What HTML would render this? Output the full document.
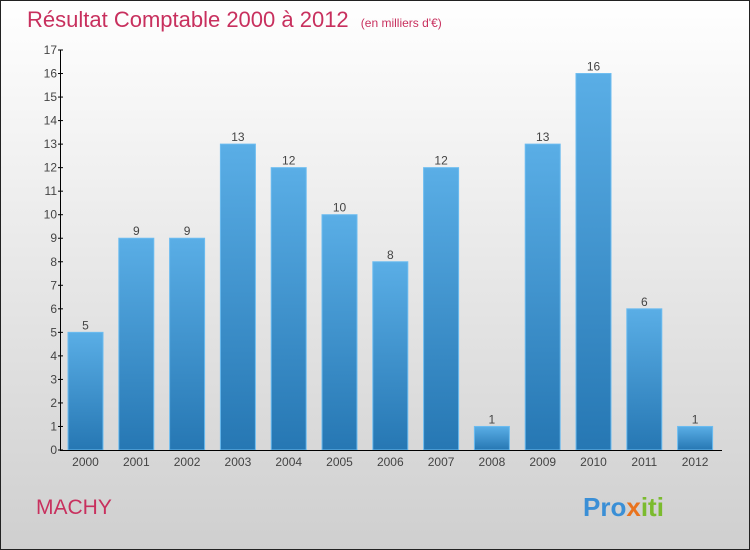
<!DOCTYPE html>
<html><head><meta charset="utf-8"><style>
body{margin:0;width:750px;height:550px;overflow:hidden}
svg{display:block;font-family:"Liberation Sans",sans-serif}
</style></head><body>
<svg id="c" width="750" height="550">
<defs>
<linearGradient id="bg" x1="0" y1="0" x2="0" y2="1"><stop offset="0" stop-color="#ffffff"/><stop offset="1" stop-color="#cfcfcf"/></linearGradient>
<linearGradient id="bar" x1="0" y1="0" x2="0" y2="1"><stop offset="0" stop-color="#5aaee6"/><stop offset="1" stop-color="#2677b3"/></linearGradient>
</defs>
<rect x="0.5" y="0.5" width="749" height="549" fill="url(#bg)" stroke="#222"/>
<text x="27" y="27" font-size="22" fill="#c8305e">Résultat Comptable 2000 à 2012 <tspan font-size="12" dx="6">(en milliers d'€)</tspan></text>
<text x="36" y="514" font-size="21" fill="#c8305e">MACHY</text>
<text x="583" y="516" font-size="26" font-weight="bold" fill="#3a8fd6">Pro<tspan fill="#e9731e">x</tspan><tspan fill="#7bbb2e">iti</tspan></text>
<g id="g"></g>
</svg>
<script>
const categories=["2000","2001","2002","2003","2004","2005","2006","2007","2008","2009","2010","2011","2012"];
const values=[5,9,9,13,12,10,8,12,1,13,16,6,1];
const yTicks=[0,1,2,3,4,5,6,7,8,9,10,11,12,13,14,15,16,17];
const g=document.getElementById('g');
const NS='http://www.w3.org/2000/svg';
const y=v=>450-v*400/17;
const x=i=>85.5+i*50.8;
function mk(t,a){const e=document.createElementNS(NS,t);for(const k in a)e.setAttribute(k,a[k]);g.appendChild(e);return e;}
values.forEach((v,i)=>{
 const r=mk('rect',{x:x(i)-17.5,y:y(v),width:35,height:450-y(v),fill:'url(#bar)',stroke:'#6cbcf0','stroke-width':1});
 
 
 const t=mk('text',{x:x(i),y:y(v)-3,'font-size':12,'text-anchor':'middle',fill:'#444'});
 t.textContent=v;
 
 
 const c=mk('text',{x:x(i),y:466,'font-size':12,'text-anchor':'middle',fill:'#444'});
 c.textContent=categories[i];
 
 
});
yTicks.forEach(v=>{
 const l=mk('line',{x1:58,x2:63,y1:y(v),y2:y(v),stroke:'#000'});
 
 
 const t=mk('text',{x:57,y:y(v)+4,'font-size':12,'text-anchor':'end',fill:'#444'});
 t.textContent=v;
 
 
});
const ya=mk('line',{x1:60.5,x2:60.5,y1:50,y2:450,stroke:'#000'});


const xa=mk('line',{x1:60,x2:722,y1:450.5,y2:450.5,stroke:'#000'});


</script>
</body></html>
